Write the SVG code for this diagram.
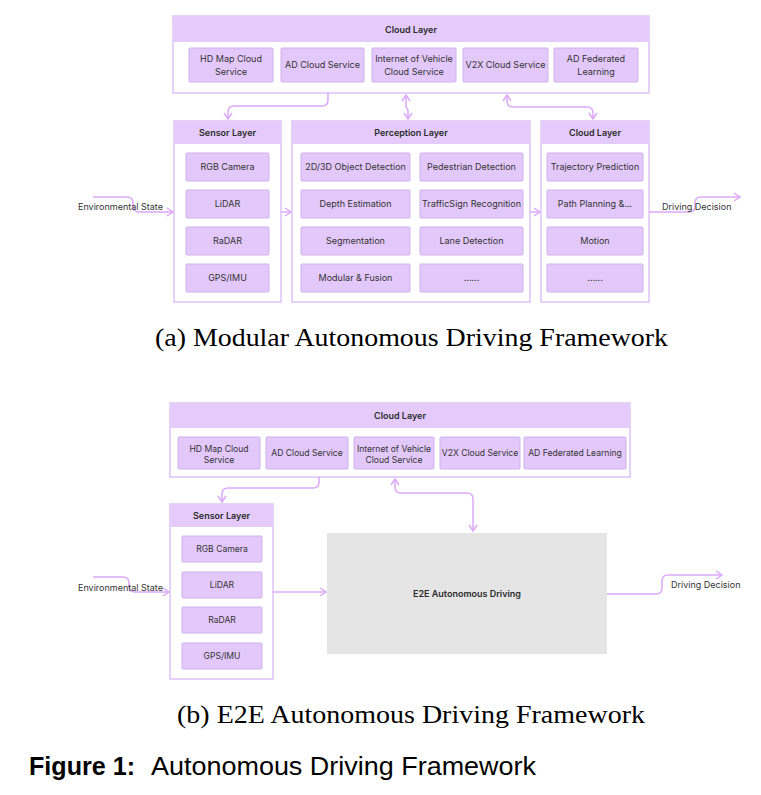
<svg xmlns="http://www.w3.org/2000/svg" width="761" height="795" viewBox="0 0 761 795">
<style>
.bg{fill:#ffffff}
.outer{fill:#ffffff;stroke:#dec2f8;stroke-width:1.5}
.hdr{fill:#e4cbfc}
.box{fill:#e3c8fb;stroke:#cfb2ea;stroke-width:1}
.e2e{fill:#e5e5e5}
.t{font-family:Inter,"Liberation Sans",sans-serif;font-size:9px;fill:#333333;text-anchor:middle}
.ts{font-family:Inter,"Liberation Sans",sans-serif;font-size:8.6px;fill:#333333;text-anchor:middle}
.h{font-family:Inter,"Liberation Sans",sans-serif;font-size:9px;font-weight:600;fill:#2b2b2b;text-anchor:middle}
.lbl{font-family:Inter,"Liberation Sans",sans-serif;font-size:9px;fill:#333333}
.conn{fill:none;stroke:#dca8f9;stroke-width:1.5}
.cap{font-family:"Liberation Serif",serif;font-size:26px;fill:#000000;text-anchor:middle}
.fig{font-family:"Liberation Sans",sans-serif;font-size:25px;fill:#000000}
</style>
<defs>
<marker id="arr" viewBox="0 0 8 10" refX="7" refY="5" markerWidth="8" markerHeight="10" markerUnits="userSpaceOnUse" orient="auto-start-reverse">
<path d="M1,1 L7,5 L1,9" fill="none" stroke="#dca8f9" stroke-width="1.5"/>
</marker>
</defs>
<rect class="bg" x="0" y="0" width="761" height="795"/>

<!-- (a) Modular -->
<g id="a-cloud">
<rect class="outer" x="173" y="16" width="476" height="77"/>
<rect class="hdr" x="173.75" y="16.75" width="474.5" height="25.25"/>
<text class="h" x="411" y="32.5">Cloud Layer</text>
</g>
<g id="a-cloud-hdmap"><rect class="box" x="189" y="48" width="84" height="34" rx="1"/><text class="t" x="231" y="62">HD Map Cloud</text><text class="t" x="231" y="75">Service</text></g>
<g id="a-cloud-ad"><rect class="box" x="281" y="48" width="83" height="34" rx="1"/><text class="t" x="322.5" y="68">AD Cloud Service</text></g>
<g id="a-cloud-iov"><rect class="box" x="372" y="48" width="84" height="34" rx="1"/><text class="t" x="414" y="62">Internet of Vehicle</text><text class="t" x="414" y="75">Cloud Service</text></g>
<g id="a-cloud-v2x"><rect class="box" x="463" y="48" width="85" height="34" rx="1"/><text class="t" x="505.5" y="68">V2X Cloud Service</text></g>
<g id="a-cloud-fl"><rect class="box" x="554" y="48" width="84" height="34" rx="1"/><text class="t" x="596" y="62">AD Federated</text><text class="t" x="596" y="75">Learning</text></g>

<g id="a-sensor">
<rect class="outer" x="174" y="121" width="107" height="181"/>
<rect class="hdr" x="174.75" y="121.75" width="105.5" height="22.25"/>
<text class="h" x="227.5" y="136">Sensor Layer</text>
</g>
<g id="a-rgb"><rect class="box" x="186" y="153" width="83" height="28" rx="1"/><text class="t" x="227.5" y="170">RGB Camera</text></g>
<g id="a-lidar"><rect class="box" x="186" y="190" width="83" height="28" rx="1"/><text class="t" x="227.5" y="207">LiDAR</text></g>
<g id="a-radar"><rect class="box" x="186" y="227" width="83" height="28" rx="1"/><text class="t" x="227.5" y="244">RaDAR</text></g>
<g id="a-gps"><rect class="box" x="186" y="264" width="83" height="28" rx="1"/><text class="t" x="227.5" y="281">GPS/IMU</text></g>

<g id="a-perception">
<rect class="outer" x="292" y="121" width="238" height="181"/>
<rect class="hdr" x="292.75" y="121.75" width="236.5" height="22.25"/>
<text class="h" x="411" y="136">Perception Layer</text>
</g>
<g id="a-obj"><rect class="box" x="301" y="153" width="109" height="28" rx="1"/><text class="t" x="355.5" y="170">2D/3D Object Detection</text></g>
<g id="a-ped"><rect class="box" x="420" y="153" width="103" height="28" rx="1"/><text class="t" x="471.5" y="170">Pedestrian Detection</text></g>
<g id="a-depth"><rect class="box" x="301" y="190" width="109" height="28" rx="1"/><text class="t" x="355.5" y="207">Depth Estimation</text></g>
<g id="a-traffic"><rect class="box" x="420" y="190" width="103" height="28" rx="1"/><text class="t" x="471.5" y="207">TrafficSign Recognition</text></g>
<g id="a-seg"><rect class="box" x="301" y="227" width="109" height="28" rx="1"/><text class="t" x="355.5" y="244">Segmentation</text></g>
<g id="a-lane"><rect class="box" x="420" y="227" width="103" height="28" rx="1"/><text class="t" x="471.5" y="244">Lane Detection</text></g>
<g id="a-fusion"><rect class="box" x="301" y="264" width="109" height="28" rx="1"/><text class="t" x="355.5" y="281">Modular &amp; Fusion</text></g>
<g id="a-pmore"><rect class="box" x="420" y="264" width="103" height="28" rx="1"/><text class="t" x="471.5" y="281">......</text></g>

<g id="a-cloud2">
<rect class="outer" x="541" y="121" width="108" height="181"/>
<rect class="hdr" x="541.75" y="121.75" width="106.5" height="22.25"/>
<text class="h" x="595" y="136">Cloud Layer</text>
</g>
<g id="a-traj"><rect class="box" x="547" y="153" width="96" height="28" rx="1"/><text class="t" x="595" y="170">Trajectory Prediction</text></g>
<g id="a-path"><rect class="box" x="547" y="190" width="96" height="28" rx="1"/><text class="t" x="595" y="207">Path Planning &amp;...</text></g>
<g id="a-motion"><rect class="box" x="547" y="227" width="96" height="28" rx="1"/><text class="t" x="595" y="244">Motion</text></g>
<g id="a-cmore"><rect class="box" x="547" y="264" width="96" height="28" rx="1"/><text class="t" x="595" y="281">......</text></g>

<g id="a-connectors">
<path class="conn" d="M328,93 V100 Q328,106 322,106 H234 Q228,106 228,112 V119" marker-end="url(#arr)"/>
<path class="conn" d="M406,95 V106 Q406,108 407,108.5 Q408,109 408,111 V119" marker-start="url(#arr)" marker-end="url(#arr)"/>
<path class="conn" d="M507,95 V101 Q507,107 513,107 H587 Q593,107 593,113 V119" marker-start="url(#arr)" marker-end="url(#arr)"/>
<path class="conn" d="M281,212 H291" marker-end="url(#arr)"/>
<path class="conn" d="M530,212 H540" marker-end="url(#arr)"/>
<path class="conn" d="M93,197 H127 Q133,197 133,203 V206 Q133,212 139,212 H173" marker-end="url(#arr)"/>
<path class="conn" d="M649,212 H689 Q695,212 695,206 V203 Q695,197 701,197 H740" marker-end="url(#arr)"/>
</g>
<text class="lbl" x="78" y="210">Environmental State</text>
<text class="lbl" x="662" y="210">Driving Decision</text>

<text class="cap" x="411.5" y="346" textLength="513" lengthAdjust="spacingAndGlyphs">(a) Modular Autonomous Driving Framework</text>

<!-- (b) E2E -->
<g id="b-cloud">
<rect class="outer" x="170" y="403" width="460" height="74"/>
<rect class="hdr" x="170.75" y="403.75" width="458.5" height="24.25"/>
<text class="h" x="400" y="419">Cloud Layer</text>
</g>
<g id="b-cloud-hdmap"><rect class="box" x="178" y="437" width="82" height="32" rx="1"/><text class="ts" x="219" y="451.5">HD Map Cloud</text><text class="ts" x="219" y="463">Service</text></g>
<g id="b-cloud-ad"><rect class="box" x="266" y="437" width="82" height="32" rx="1"/><text class="ts" x="307" y="456">AD Cloud Service</text></g>
<g id="b-cloud-iov"><rect class="box" x="354" y="437" width="80" height="32" rx="1"/><text class="ts" x="394" y="451.5">Internet of Vehicle</text><text class="ts" x="394" y="463">Cloud Service</text></g>
<g id="b-cloud-v2x"><rect class="box" x="440" y="437" width="80" height="32" rx="1"/><text class="ts" x="480" y="456">V2X Cloud Service</text></g>
<g id="b-cloud-fl"><rect class="box" x="524" y="437" width="102" height="32" rx="1"/><text class="ts" x="575" y="456">AD Federated Learning</text></g>

<g id="b-sensor">
<rect class="outer" x="170" y="504" width="103" height="175"/>
<rect class="hdr" x="170.75" y="504.75" width="101.5" height="22.25"/>
<text class="h" x="221.5" y="519">Sensor Layer</text>
</g>
<g id="b-rgb"><rect class="box" x="182" y="536" width="80" height="26" rx="1"/><text class="ts" x="222" y="552">RGB Camera</text></g>
<g id="b-lidar"><rect class="box" x="182" y="572" width="80" height="26" rx="1"/><text class="ts" x="222" y="588">LiDAR</text></g>
<g id="b-radar"><rect class="box" x="182" y="607" width="80" height="26" rx="1"/><text class="ts" x="222" y="623">RaDAR</text></g>
<g id="b-gps"><rect class="box" x="182" y="643" width="80" height="26" rx="1"/><text class="ts" x="222" y="659">GPS/IMU</text></g>

<g id="b-e2e">
<rect class="e2e" x="327" y="533" width="280" height="121"/>
<text class="h" x="467" y="597">E2E Autonomous Driving</text>
</g>

<g id="b-connectors">
<path class="conn" d="M319,477 V482 Q319,488 313,488 H228 Q222,488 222,494 V502" marker-end="url(#arr)"/>
<path class="conn" d="M395,479 V487 Q395,493 401,493 H467 Q473,493 473,499 V531" marker-start="url(#arr)" marker-end="url(#arr)"/>
<path class="conn" d="M273,592 H326" marker-end="url(#arr)"/>
<path class="conn" d="M93,577 H123 Q129,577 129,583 V586 Q129,592 135,592 H169" marker-end="url(#arr)"/>
<path class="conn" d="M607,594 H656 Q662,594 662,588 V581 Q662,575 668,575 H722" marker-end="url(#arr)"/>
</g>
<text class="lbl" x="78" y="591">Environmental State</text>
<text class="lbl" x="671" y="588">Driving Decision</text>

<text class="cap" x="411" y="723" textLength="468" lengthAdjust="spacingAndGlyphs">(b) E2E Autonomous Driving Framework</text>

<text class="fig" x="29" y="775" font-weight="bold" textLength="106" lengthAdjust="spacingAndGlyphs">Figure 1:</text>
<text class="fig" x="151" y="775" textLength="385" lengthAdjust="spacingAndGlyphs">Autonomous Driving Framework</text>
</svg>
